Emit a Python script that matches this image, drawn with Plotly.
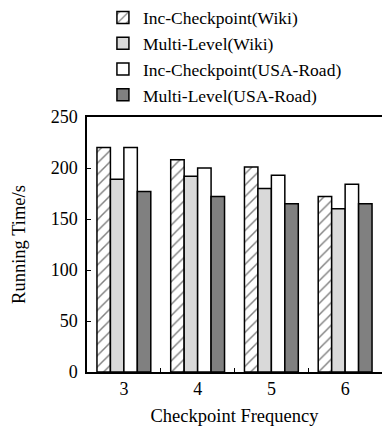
import plotly.graph_objects as go

categories = [3, 4, 5, 6]
tick_labels = ["3", "4", "5", "6"]
series_names = ["Inc-Checkpoint(Wiki)", "Multi-Level(Wiki)",
                "Inc-Checkpoint(USA-Road)", "Multi-Level(USA-Road)"]
inc_wiki = [220, 208, 201, 172]
ml_wiki = [189, 192, 180, 160]
inc_road = [220, 200, 193, 184]
ml_road = [177, 172, 165, 165]

FONT = "Liberation Serif, Times New Roman, serif"

fig = go.Figure()
fig.add_trace(go.Bar(x=categories, y=inc_wiki, name=series_names[0],
                     marker=dict(color="white", line=dict(color="black", width=1.5),
                                 pattern=dict(shape="/", fgcolor="black", bgcolor="white",
                                              size=8, solidity=0.18))))
fig.add_trace(go.Bar(x=categories, y=ml_wiki, name=series_names[1],
                     marker=dict(color="#d9d9d9", line=dict(color="black", width=1.5))))
fig.add_trace(go.Bar(x=categories, y=inc_road, name=series_names[2],
                     marker=dict(color="white", line=dict(color="black", width=1.5))))
fig.add_trace(go.Bar(x=categories, y=ml_road, name=series_names[3],
                     marker=dict(color="#808080", line=dict(color="black", width=1.5))))

fig.update_layout(
    width=382, height=427,
    margin=dict(l=87, r=0, t=117, b=55, autoexpand=False),
    paper_bgcolor="white", plot_bgcolor="white",
    barmode="group", bargap=0.27, bargroupgap=0,
    font=dict(family=FONT, size=18, color="black"),
    showlegend=True,
    legend=dict(x=0.054, y=1.46,
                xanchor="left", yanchor="top", bgcolor="rgba(0,0,0,0)",
                font=dict(family=FONT, size=17.5), tracegroupgap=0,
                itemwidth=30, traceorder="normal"),
    xaxis=dict(range=[2.5, 6.5], tickvals=categories, ticktext=tick_labels,
               ticks="", showline=True, linecolor="black", linewidth=1.5,
               mirror=True, showgrid=False, zeroline=False,
               minor=dict(tickvals=[3.5, 4.5, 5.5], ticks="inside", ticklen=4,
                          tickcolor="black", tickwidth=1),
               tickfont=dict(family=FONT, size=18),
               title=dict(text="Checkpoint Frequency", standoff=11,
                          font=dict(family=FONT, size=18.5))),
    yaxis=dict(range=[0, 250], tickvals=[0, 50, 100, 150, 200, 250],
               ticks="inside", ticklen=4, tickcolor="black", tickwidth=1,
               ticklabelstandoff=4,
               showline=True, linecolor="black", linewidth=1.5,
               showgrid=False, zeroline=False,
               tickfont=dict(family=FONT, size=18),
               title=dict(text="Running Time/s", standoff=20,
                          font=dict(family=FONT, size=18.5))),
)

fig.write_html("out.html", config={"displayModeBar": False},
               post_script="document.body.style.margin='0';document.body.style.overflow='hidden';")
